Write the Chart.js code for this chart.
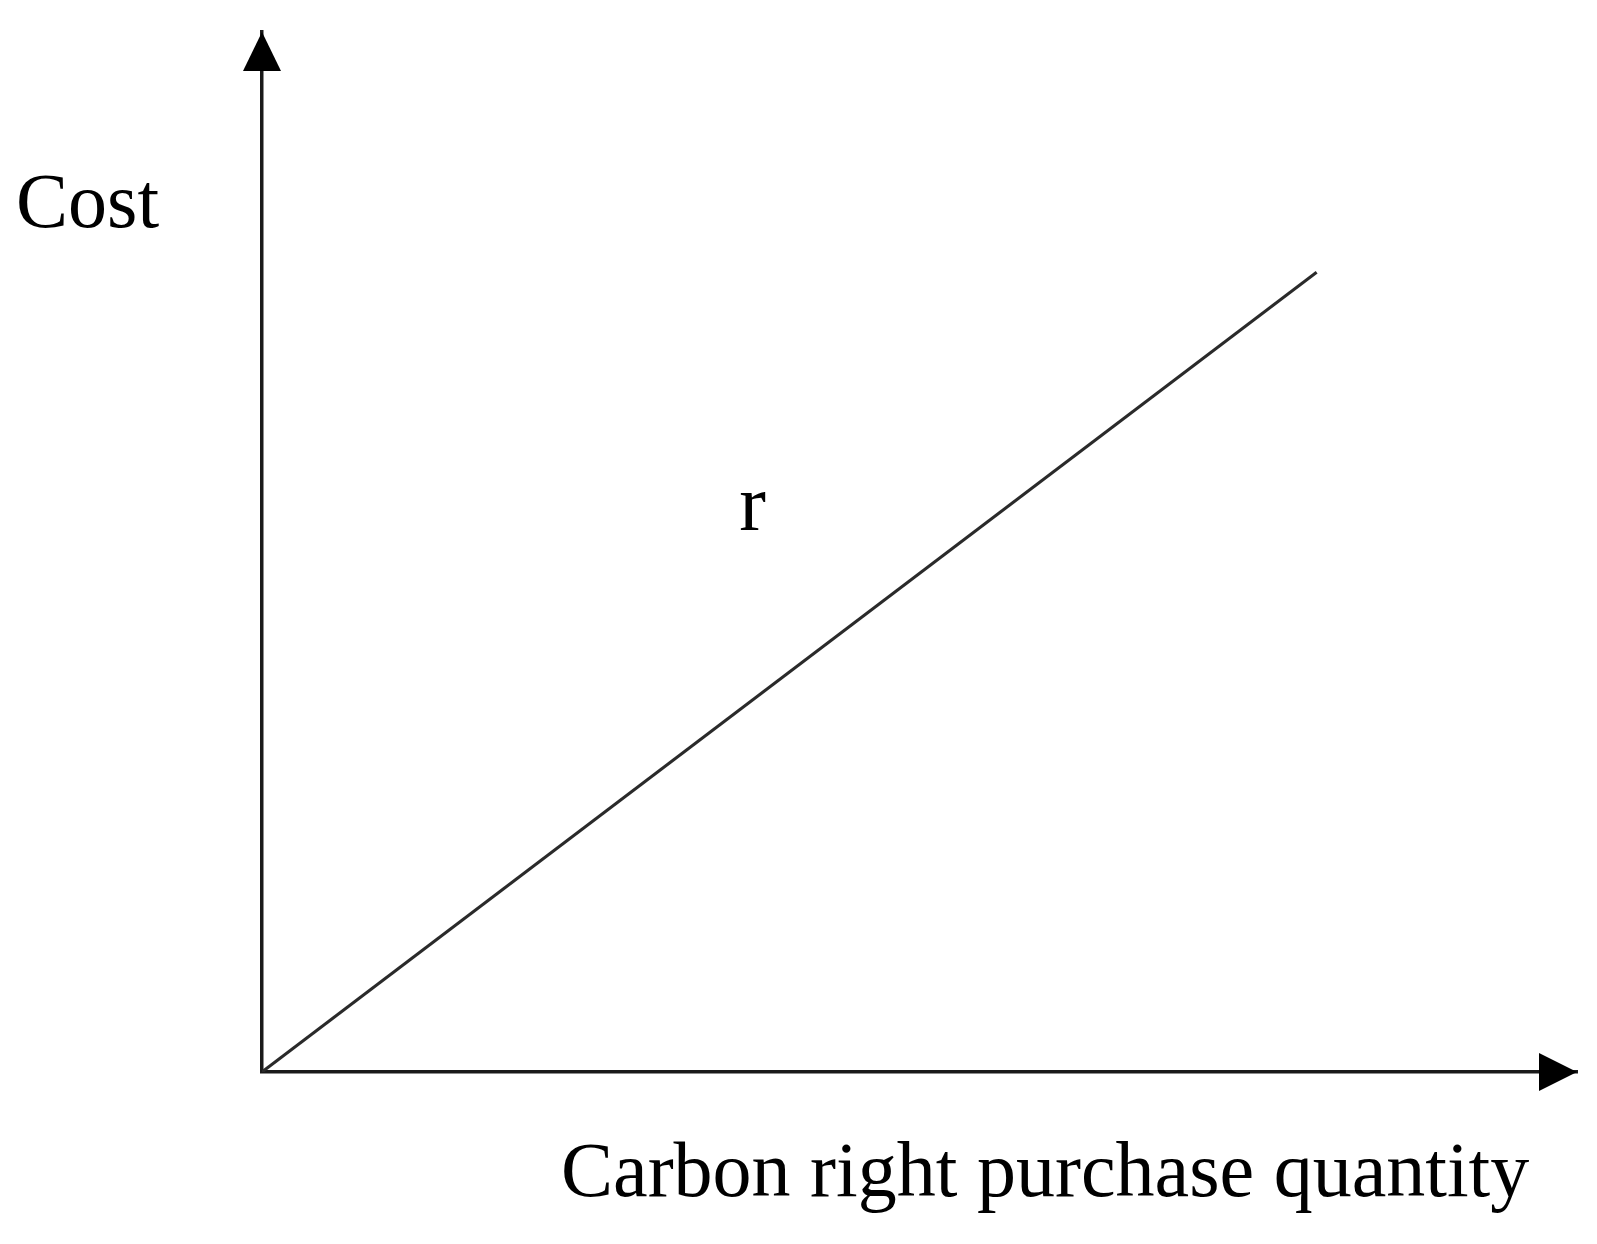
<!DOCTYPE html>
<html>
<head>
<meta charset="utf-8">
<script src="https://cdn.jsdelivr.net/npm/chart.js@4/dist/chart.umd.min.js"></script>
<style>
  html, body { margin: 0; padding: 0; background: #fff; }
  #wrap { position: relative; width: 1597px; height: 1244px; }
</style>
</head>
<body>
<div id="wrap"><canvas id="c" width="1597" height="1244"></canvas></div>
<script>
// Data
const quantity = [0, 8.02];
const cost = [0, 7.69];
const lineLabel = "r";
const lineLabelPos = [3.73, 5.21];
const xTitle = "Carbon right purchase quantity";
const yTitle = "Cost";
const axisMax = 10;

const points = quantity.map((q, i) => ({ x: q, y: cost[i] }));

const annotations = {
  id: 'annotations',
  afterDraw(chart) {
    const { ctx, chartArea: a, scales } = chart;
    ctx.save();
    ctx.fillStyle = '#000';
    const x0 = scales.x.getPixelForValue(0);
    const y0 = scales.y.getPixelForValue(0);
    // Y arrow
    ctx.beginPath();
    ctx.moveTo(x0, a.top);
    ctx.lineTo(x0 - 19, a.top + 39);
    ctx.lineTo(x0 + 19, a.top + 39);
    ctx.closePath();
    ctx.fill();
    // X arrow
    ctx.beginPath();
    ctx.moveTo(a.right, y0);
    ctx.lineTo(a.right - 38, y0 - 19);
    ctx.lineTo(a.right - 38, y0 + 19);
    ctx.closePath();
    ctx.fill();
    // Texts
    ctx.textBaseline = 'alphabetic';
    ctx.textAlign = 'left';
    ctx.font = '78px "Liberation Serif", "Times New Roman", serif';
    ctx.fillText(yTitle, 16, 227);
    ctx.font = '78px "Liberation Serif", "Times New Roman", serif';
    ctx.fillText(xTitle, 561, 1196);
    ctx.font = '80px "Liberation Serif", "Times New Roman", serif';
    ctx.textAlign = 'center';
    ctx.fillText(lineLabel,
      scales.x.getPixelForValue(lineLabelPos[0]),
      scales.y.getPixelForValue(lineLabelPos[1]));
    ctx.restore();
  }
};

new Chart(document.getElementById('c'), {
  type: 'scatter',
  data: {
    datasets: [{
      data: points,
      showLine: true,
      borderColor: '#2a2a2a',
      borderWidth: 3,
      pointRadius: 0,
      fill: false
    }]
  },
  options: {
    responsive: false,
    animation: false,
    layout: { padding: { left: 262, right: 20, top: 32, bottom: 172 } },
    plugins: { legend: { display: false }, tooltip: { enabled: false } },
    scales: {
      x: {
        type: 'linear', min: 0, max: axisMax,
        grid: { display: false, drawTicks: false },
        ticks: { display: false },
        border: { display: true, color: '#1a1a1a', width: 3.5 }
      },
      y: {
        type: 'linear', min: 0, max: axisMax,
        grid: { display: false, drawTicks: false },
        ticks: { display: false },
        border: { display: true, color: '#1a1a1a', width: 3.5 }
      }
    }
  },
  plugins: [annotations]
});
</script>
</body>
</html>
